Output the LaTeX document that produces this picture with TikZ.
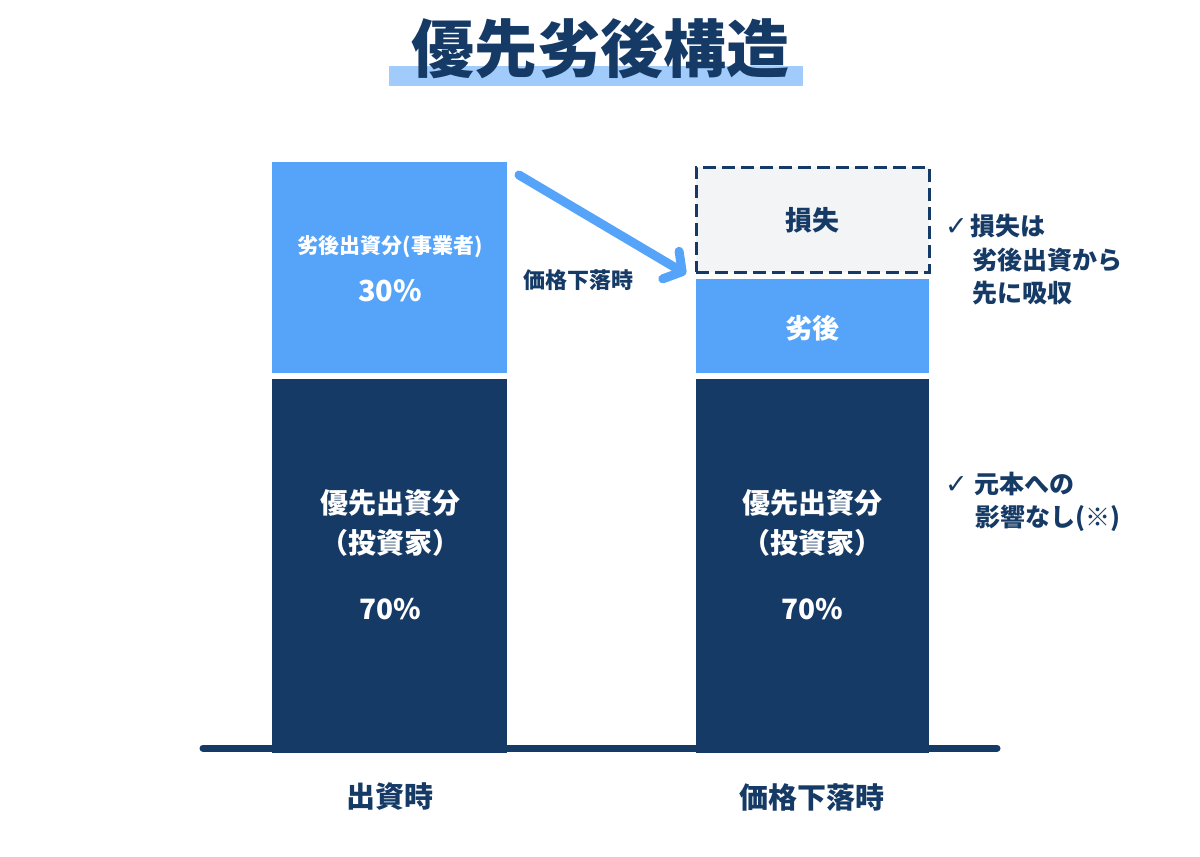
\documentclass[tikz,border=0pt]{standalone}
\usepackage{fontspec}
\setmainfont{Noto Sans CJK JP}
\newfontfamily\dejavu{DejaVu Sans}
\usetikzlibrary{arrows.meta}
\definecolor{navy}{HTML}{163A66}
\definecolor{sky}{HTML}{56A4FA}
\definecolor{skyhl}{HTML}{A0CBFA}
\definecolor{lossbg}{HTML}{F3F4F6}
\newcommand{\fs}[1]{\fontsize{#1}{#1}\selectfont}
\begin{document}
\begin{tikzpicture}[x=1pt,y=-1pt,
  barbox/.style={inner sep=0pt,outer sep=0pt,minimum width=235pt},
  wtxt/.style={text=white,font=\bfseries\fs{28}},
  ntxt/.style={text=navy,font=\bfseries\fs{25},anchor=west,inner sep=0pt},
  lbl/.style={text=navy,font=\bfseries\fs{29}}]
\useasboundingbox (0,0) rectangle (1200,857);
% title
\fill[skyhl] (389,66) rectangle (803,86);
\node[text=navy,font=\bfseries\fs{63}] (title) at (600,49) {優先劣後構造};
% baseline
\coordinate (b1) at (203,748);
\coordinate (b2) at (997,748);
\draw[navy,line width=7pt,line cap=round] (b1) -- (b2);
% left bar
\node[barbox,fill=sky,minimum height=211pt] (lsub) at (389.5,267.5) {};
\node[barbox,fill=navy,minimum height=374pt] (lsen) at (389.5,566) {};
\node[wtxt,font=\bfseries\fs{21}] (lsubt) at (390,247) {劣後出資分(事業者)};
\node[wtxt,font=\bfseries\fs{29}] (lsubp) at (390,291) {30\%};
\node[wtxt] (lsen1) at (390,503) {優先出資分};
\node[wtxt] (lsen2) at (390,543) {（投資家）};
\node[wtxt,font=\bfseries\fs{28}] (lsenp) at (390,609) {70\%};
% right bar
\node[barbox,minimum width=233pt,minimum height=105pt,fill=lossbg,draw=navy,line width=3pt,dash pattern=on 13pt off 6pt] (loss) at (812.5,219.5) {};
\node[barbox,minimum width=233pt,fill=sky,minimum height=94pt] (rsub) at (812.5,326) {};
\node[barbox,minimum width=233pt,fill=navy,minimum height=374pt] (rsen) at (812.5,566) {};
\node[text=navy,font=\bfseries\fs{27}] (losst) at (812,220) {損失};
\node[wtxt,font=\bfseries\fs{27}] (rsubt) at (812,328) {劣後};
\node[wtxt] (rsen1) at (812,503) {優先出資分};
\node[wtxt] (rsen2) at (812,543) {（投資家）};
\node[wtxt,font=\bfseries\fs{28}] (rsenp) at (812,609) {70\%};
% arrow
\coordinate (a1) at (519,175);
\coordinate (a2) at (686,274);
\draw[sky,line width=9pt,line cap=round,-{Straight Barb[length=13pt,width=32pt,round]}] (a1) -- (a2);
\node[text=navy,font=\bfseries\fs{22}] (drop) at (578,280) {価格下落時};
% notes
\node[ntxt] (n1) at (945,226) {{\dejavu\bfseries\fs{27}✓}\hspace{3pt}損失は};
\node[ntxt] (n2) at (972,260) {劣後出資から};
\node[ntxt] (n3) at (972,293) {先に吸収};
\node[ntxt] (n4) at (945,484) {{\dejavu\bfseries\fs{27}✓}\hspace{7pt}元本への};
\node[ntxt] (n5) at (975,518) {影響なし(※)};
% bottom labels
\node[lbl] (l1) at (390,797) {出資時};
\node[lbl] (l2) at (812,797) {価格下落時};
\end{tikzpicture}
\end{document}
